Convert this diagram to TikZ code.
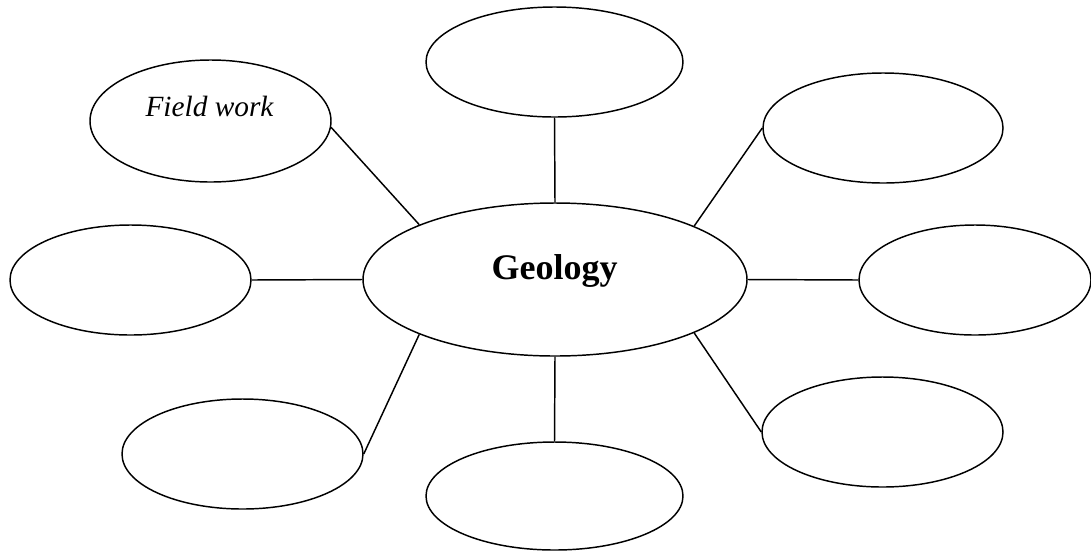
\documentclass[tikz,border=0pt]{standalone}
\usepackage{fontspec}
\setmainfont{Liberation Serif}
\usetikzlibrary{shapes.geometric}
\tikzset{
  bubble/.style={draw, ellipse, inner sep=0pt, line width=1.1pt},
  link/.style={line width=1.1pt},
}
\begin{document}
\begin{tikzpicture}[x=0.75pt, y=-0.75pt]
  \useasboundingbox (0,0) rectangle (1091,551);
  % central topic
  \node[bubble, minimum width=288pt, minimum height=114.75pt] (geo) at (555,279.5) {};
  \node[anchor=base, font=\fontsize{27}{32}\selectfont\bfseries] (geotxt) at (554.5,279) {Geology};
  % surrounding bubbles
  \node[bubble, minimum width=192.75pt, minimum height=82.5pt] (top) at (554.5,62) {};
  \node[bubble, minimum width=180.75pt, minimum height=91.5pt] (fw) at (210.5,121) {};
  \node[anchor=base, font=\fontsize{22}{26}\selectfont\itshape] (fwtxt) at (209.5,116) {Field work};
  \node[bubble, minimum width=180pt, minimum height=82.5pt] (tr) at (883,128) {};
  \node[bubble, minimum width=180.75pt, minimum height=82.5pt] (lf) at (130.5,280) {};
  \node[bubble, minimum width=174pt, minimum height=82.5pt] (rt) at (975,280) {};
  \node[bubble, minimum width=180.75pt, minimum height=82.5pt] (bl) at (242.5,454) {};
  \node[bubble, minimum width=192.75pt, minimum height=81pt] (bt) at (554.5,496) {};
  \node[bubble, minimum width=180.75pt, minimum height=82.5pt] (br) at (882.5,432) {};
  % spokes
  \draw[link] (fw.-3) -- (geo.158.3);
  \draw[link] (top.south) -- (geo.north);
  \draw[link] (tr.west) -- (geo.21.3);
  \draw[link] (lf.east) -- (geo.west);
  \draw[link] (geo.east) -- (rt.west);
  \draw[link] (bl.east) -- (geo.202.2);
  \draw[link] (geo.south) -- (bt.north);
  \draw[link] (geo.-21.7) -- (br.west);
\end{tikzpicture}
\end{document}
